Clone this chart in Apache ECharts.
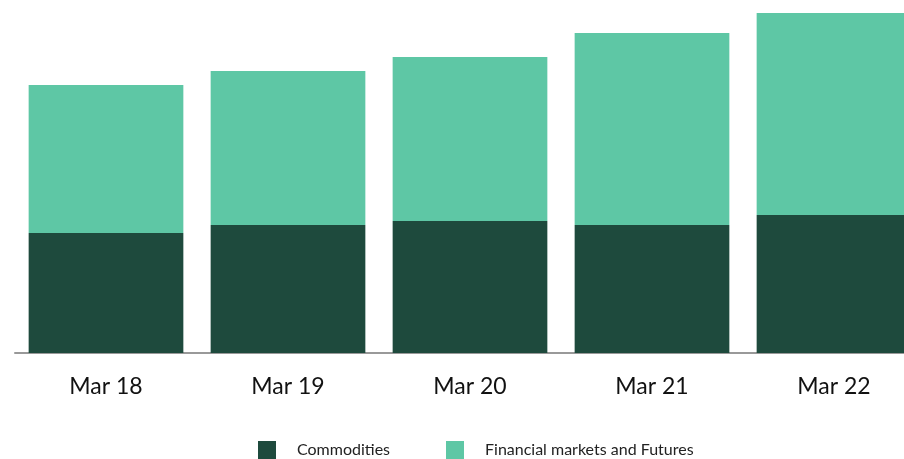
<!DOCTYPE html>
<html>
<head>
<meta charset="utf-8">
<script src="https://cdn.jsdelivr.net/npm/echarts@6/dist/echarts.min.js"></script>
<style>
  html, body { margin: 0; padding: 0; background: #fff; }
  #chart { width: 904px; height: 459px; }
</style>
</head>
<body>
<div id="chart"></div>
<script>
const categories = ['Mar 18', 'Mar 19', 'Mar 20', 'Mar 21', 'Mar 22']
const commodities = [120, 128, 132, 128, 138]
const financial = [148, 154, 164, 192, 202]

const chart = echarts.init(document.getElementById('chart'))
chart.setOption({
  animation: false,
  textStyle: { fontFamily: 'Lato' },
  legend: {
    top: 436,
    left: 253,
    itemWidth: 18,
    itemHeight: 18,
    itemGap: 56,
    icon: 'rect',
    textStyle: { fontSize: 16, color: '#222', padding: [0, 0, 0, 16] },
    data: ['Commodities', 'Financial markets and Futures'],
  },
  grid: { left: 15, width: 910, top: 0, bottom: 106, outerBoundsMode: 'none' },
  xAxis: {
    type: 'category',
    data: categories,
    axisLine: { lineStyle: { color: '#999', width: 2 } },
    axisTick: { show: false },
    axisLabel: { fontSize: 23, color: '#111', margin: 22 },
  },
  yAxis: {
    type: 'value',
    min: 0,
    max: 353,
    show: false,
    splitLine: { show: false },
  },
  series: [
    {
      name: 'Commodities',
      type: 'bar',
      stack: 'total',
      barCategoryGap: '15%',
      data: commodities,
      itemStyle: { color: '#1e4a3d' },
    },
    {
      name: 'Financial markets and Futures',
      type: 'bar',
      stack: 'total',
      barCategoryGap: '15%',
      data: financial,
      itemStyle: { color: '#5ec7a5' },
    },
  ],
})
</script>
</body>
</html>
